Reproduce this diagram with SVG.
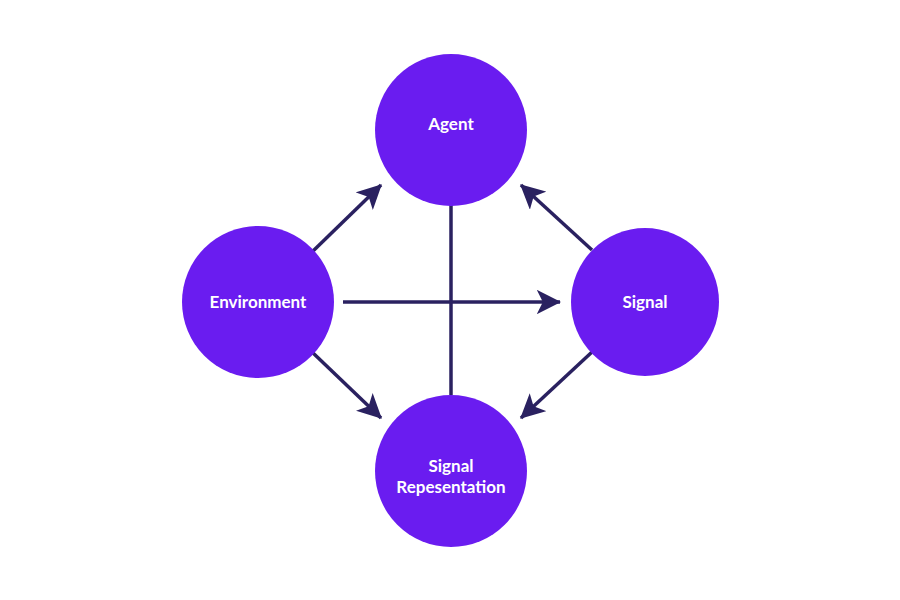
<svg xmlns="http://www.w3.org/2000/svg" width="900" height="600" viewBox="0 0 900 600">
<style>
.n{fill:#6a1cf0}
.t{fill:#fff;font-family:"Lato","Liberation Sans",sans-serif;font-weight:bold;font-size:17px;text-anchor:middle}
.c{stroke:#2a2160;stroke-width:3.5;fill:none}
</style>
<defs>
<marker id="a" viewBox="0 0 20 20" refX="19" refY="10" markerWidth="7" markerHeight="7" markerUnits="strokeWidth" orient="auto">
<path d="M0,0 L20,10 L0,20 L5,10 Z" fill="#2a2160"/>
</marker>
</defs>
<rect width="900" height="600" fill="#fff"/>
<g id="connectors">
<line class="c" x1="451" y1="205" x2="451" y2="395"/>
<line class="c" x1="343" y1="302" x2="560" y2="302" marker-end="url(#a)"/>
<line class="c" x1="312" y1="252" x2="381" y2="185" marker-end="url(#a)"/>
<line class="c" x1="312" y1="352" x2="381" y2="418" marker-end="url(#a)"/>
<line class="c" x1="592" y1="250" x2="521" y2="185" marker-end="url(#a)"/>
<line class="c" x1="592" y1="352" x2="521" y2="418" marker-end="url(#a)"/>
</g>
<g id="agent"><circle class="n" cx="451" cy="130" r="76"/><text class="t" x="451" y="130">Agent</text></g>
<g id="environment"><circle class="n" cx="258" cy="302" r="76"/><text class="t" x="258" y="308">Environment</text></g>
<g id="signal"><circle class="n" cx="645" cy="302" r="74"/><text class="t" x="645" y="308">Signal</text></g>
<g id="signal-representation"><circle class="n" cx="451" cy="471" r="76"/><text class="t" x="451" y="472">Signal</text><text class="t" x="451" y="493">Repesentation</text></g>
</svg>
